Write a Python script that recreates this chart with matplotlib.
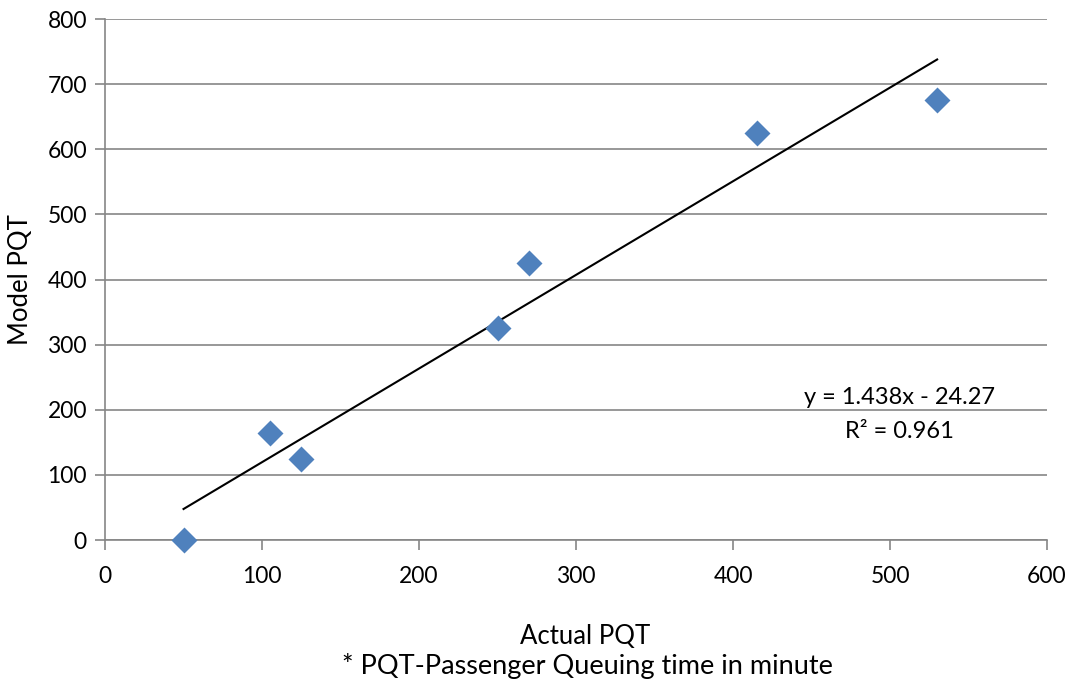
import matplotlib.pyplot as plt
import numpy as np

# dados do grafico
actual = [50, 105, 125, 250, 270, 415, 530]
model = [0, 165, 125, 325, 425, 625, 675]
slope = 1.438
intercept = -24.27
r2 = 0.961

plt.rcParams['font.family'] = ['Lato', 'DejaVu Sans']

fig = plt.figure(figsize=(10.74, 6.84), dpi=100)
ax = fig.add_axes([0.0978, 0.2105, 0.8771, 0.7617])

grid_color = '#868686'

# linha de tendencia
xt = np.array([min(actual), max(actual)])
ax.plot(xt, slope * xt + intercept, color='black', lw=1.5, zorder=2)

# pontos
ax.scatter(actual, model, marker='D', s=175, color='#4F81BD', zorder=3,
           linewidths=0, clip_on=False)

ax.set_xlim(0, 600)
ax.set_ylim(0, 800)
ax.set_xticks(range(0, 601, 100))
ax.set_yticks(range(0, 801, 100))
ax.grid(axis='y', color=grid_color, lw=1.2)
ax.set_axisbelow(True)

for s in ['top', 'right']:
    ax.spines[s].set_visible(False)
for s in ['left', 'bottom']:
    ax.spines[s].set_color(grid_color)
    ax.spines[s].set_linewidth(1.2)

ax.tick_params(axis='both', colors=grid_color, length=7, width=1.2,
               labelcolor='black', labelsize=16.5)
ax.tick_params(axis='x', pad=12)
ax.tick_params(axis='y', pad=6)

ax.set_ylabel('Model PQT', fontsize=18.5, labelpad=10)

# equacao
ax.text(506, 219, 'y = 1.438x - 24.27', ha='center', va='center', fontsize=17)
ax.text(506, 166, 'R² = 0.961', ha='center', va='center', fontsize=17)

fig.text(0.545, 1 - 636 / 684, 'Actual PQT', ha='center', va='center', fontsize=18.5)
fig.text(0.5465, 1 - 666 / 684, '* PQT-Passenger Queuing time in minute', ha='center',
         va='center', fontsize=19.5)

fig.savefig('out.png', dpi=100)
